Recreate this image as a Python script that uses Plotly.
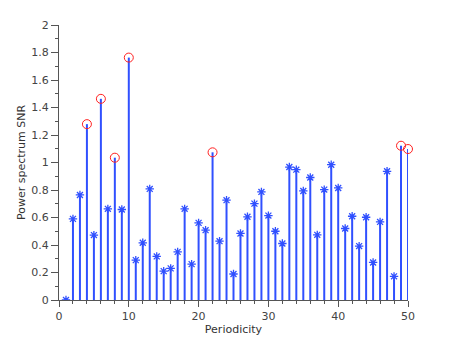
import plotly.graph_objects as go

# periodicity 1..50 and SNR
periodos = list(range(1, 51))
snr = [0.0, 0.59, 0.764, 1.279, 0.472, 1.463, 0.663, 1.035, 0.658, 1.763,
       0.29, 0.416, 0.808, 0.317, 0.21, 0.23, 0.35, 0.663, 0.261, 0.561,
       0.508, 1.074, 0.428, 0.726, 0.189, 0.484, 0.605, 0.701, 0.786, 0.614,
       0.5, 0.411, 0.967, 0.948, 0.793, 0.891, 0.474, 0.803, 0.984, 0.815,
       0.52, 0.609, 0.392, 0.602, 0.273, 0.568, 0.936, 0.172, 1.122, 1.098]
picos = [4, 6, 8, 10, 22, 49, 50]

azul = "#3050ff"
rojo = "#ff2020"

# stems as vertical segments separated by None
xs, ys = [], []
for p, v in zip(periodos, snr):
    xs += [p, p, None]
    ys += [0, v, None]

# asterisks only on the points that are not peaks
xe = [p for p in periodos if p not in picos]
ye = [snr[p - 1] for p in xe]

fig = go.Figure()
fig.add_trace(go.Scatter(x=xs, y=ys, mode="lines",
                         line=dict(color=azul, width=2), hoverinfo="skip"))
fig.add_trace(go.Scatter(x=xe, y=ye, mode="markers",
                         marker=dict(symbol="asterisk-open", size=7, color=azul,
                                     line=dict(color=azul, width=1.3))))
fig.add_trace(go.Scatter(x=picos, y=[snr[p - 1] for p in picos], mode="markers",
                         cliponaxis=False,
                         marker=dict(symbol="circle-open", size=9, color=rojo,
                                     line=dict(color=rojo, width=1))))

# page body adds an 8px offset, so the figure is made 8px smaller
fuente = dict(family="DejaVu Sans", size=11, color="#444")
fig.update_layout(
    width=442, height=330,
    margin=dict(l=51, r=42, t=17, b=38),
    paper_bgcolor="white", plot_bgcolor="white",
    showlegend=False,
    font=fuente,
)
fig.update_xaxes(range=[0, 50], dtick=10, tick0=0, ticks="outside", ticklen=6,
                 tickcolor="#555", showline=True, linecolor="#555", linewidth=1,
                 showgrid=False, zeroline=False, automargin=False,
                 minor=dict(dtick=2, ticks="outside", ticklen=3, tickcolor="#555"),
                 title=dict(text="Periodicity", standoff=2,
                            font=dict(family="DejaVu Sans", size=11, color="#333")))
fig.update_yaxes(range=[0, 2], dtick=0.2, tick0=0, ticks="outside", ticklen=7,
                 tickcolor="#555", showline=True, linecolor="#555", linewidth=1,
                 showgrid=False, zeroline=False, automargin=False,
                 minor=dict(dtick=0.1, ticks="outside", ticklen=3, tickcolor="#555"),
                 title=dict(text="Power spectrum SNR", standoff=3,
                            font=dict(family="DejaVu Sans", size=11, color="#333")))

fig.write_html("out.html")
